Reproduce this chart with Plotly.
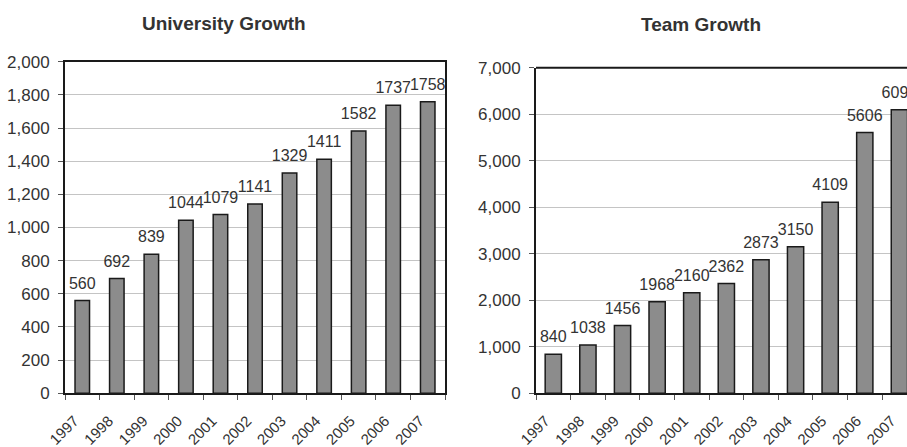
import plotly.graph_objects as go

years = ["1997", "1998", "1999", "2000", "2001", "2002", "2003", "2004", "2005", "2006", "2007"]
university = [560, 692, 839, 1044, 1079, 1141, 1329, 1411, 1582, 1737, 1758]
team = [840, 1038, 1456, 1968, 2160, 2362, 2873, 3150, 4109, 5606, 6094]
titles = ["University Growth", "Team Growth"]

W, H = 907, 447
FONT = "Liberation Sans, Arial, sans-serif"
TXT = "#333333"
BAR = "#8c8c8c"
EDGE = "#1a1a1a"
GRID = "#c4c4c4"

fig = go.Figure()

fig.add_trace(go.Bar(x=years, y=university, width=0.42, marker=dict(color=BAR, line=dict(color=EDGE, width=1.5)),
                     xaxis="x", yaxis="y", hoverinfo="skip", showlegend=False))
fig.add_trace(go.Scatter(x=years, y=university, mode="markers+text", text=[str(v) for v in university],
                         textposition="top center", textfont=dict(family=FONT, size=16, color=TXT),
                         marker=dict(size=11, color="rgba(0,0,0,0)"), xaxis="x", yaxis="y",
                         hoverinfo="skip", showlegend=False))
fig.add_trace(go.Bar(x=years, y=team, width=0.47, marker=dict(color=BAR, line=dict(color=EDGE, width=1.5)),
                     xaxis="x2", yaxis="y2", hoverinfo="skip", showlegend=False))
fig.add_trace(go.Scatter(x=years, y=team, mode="markers+text", text=[str(v) for v in team],
                         textposition="top center", textfont=dict(family=FONT, size=16, color=TXT),
                         marker=dict(size=11, color="rgba(0,0,0,0)"), xaxis="x2", yaxis="y2",
                         hoverinfo="skip", showlegend=False))

common_x = dict(type="category", tickson="boundaries", ticks="outside", ticklen=5, tickcolor="#555",
                showgrid=False, showline=True, linecolor=EDGE, linewidth=2, tickangle=-45, automargin=False,
                tickfont=dict(family=FONT, size=15, color=TXT), ticklabelshift=-8, ticklabelstandoff=11,
                zeroline=False)
common_y = dict(ticks="outside", ticklen=5, tickcolor="#555", showgrid=True, gridcolor=GRID, gridwidth=1,
                showline=True, linecolor=EDGE, linewidth=2, tickformat=",d", zeroline=False, automargin=False,
                tickfont=dict(family=FONT, size=17, color=TXT), ticklabelstandoff=5)

fig.update_layout(
    width=W, height=H, margin=dict(l=0, r=0, t=0, b=0, autoexpand=False),
    paper_bgcolor="white", plot_bgcolor="white", bargap=0.5,
    xaxis=dict(common_x, domain=[65 / W, 445 / W], range=[-0.5, 10.5], mirror=True, anchor="y"),
    yaxis=dict(common_y, domain=[1 - 393.3 / H, 1 - 61.7 / H], range=[0, 2000], dtick=200, mirror=True, anchor="x"),
    xaxis2=dict(common_x, domain=[536 / W, 1.0], range=[-0.5, 10.22], anchor="y2"),
    yaxis2=dict(common_y, domain=[1 - 393.3 / H, 1 - 67.7 / H], range=[0, 7000], dtick=1000, anchor="x2"),
    shapes=[dict(type="line", xref="x2 domain", yref="y2 domain", x0=0, x1=1, y0=1, y1=1,
                 line=dict(color=EDGE, width=2))],
    annotations=[
        dict(text="<b>" + titles[0] + "</b>", x=224 / W, y=1 - 23 / H, xref="paper", yref="paper",
             xanchor="center", yanchor="middle", showarrow=False, font=dict(family=FONT, size=19, color=TXT)),
        dict(text="<b>" + titles[1] + "</b>", x=701 / W, y=1 - 25 / H, xref="paper", yref="paper",
             xanchor="center", yanchor="middle", showarrow=False, font=dict(family=FONT, size=19, color=TXT)),
    ],
)

fig.write_html("out.html", config={"displayModeBar": False},
               post_script="document.body.style.margin='0';document.body.style.overflow='hidden';")
